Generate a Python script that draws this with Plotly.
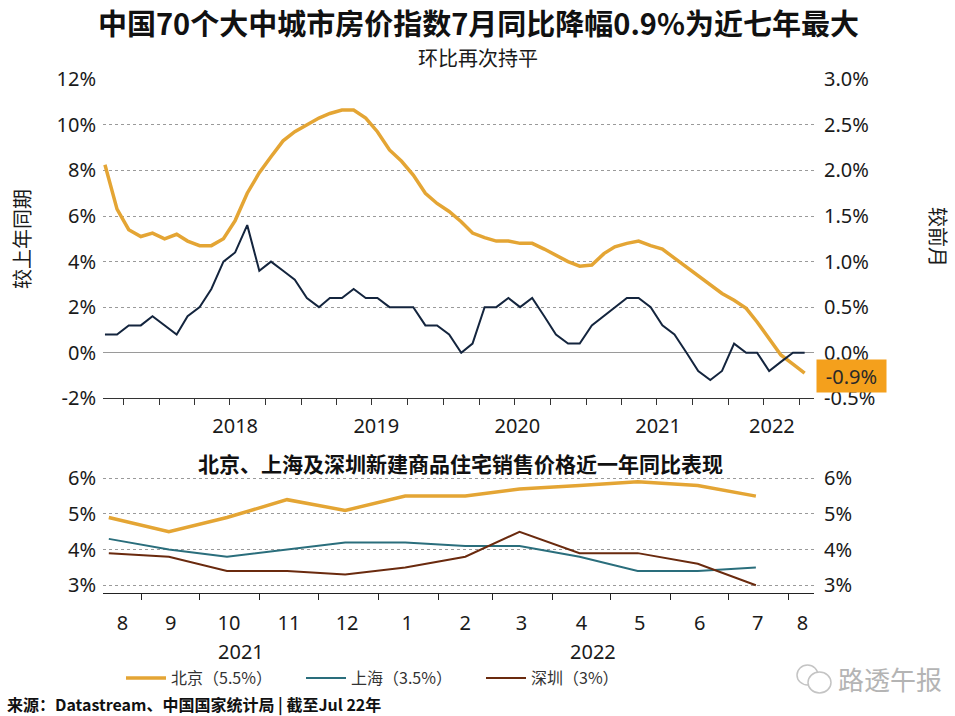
import pandas as pd
import plotly.graph_objects as go

W, H = 955, 716

# ---------------- data ----------------
# 70-city new home price index, monthly from Aug 2017 to Jul 2022
top_first_month = "2017-08-01"
yoy_70city = [8.25, 6.3, 5.4, 5.1, 5.25,
              5.0, 5.2, 4.9, 4.7, 4.7, 5.0, 5.8, 7.0, 7.9, 8.6, 9.3, 9.7,
              10.0, 10.3, 10.5, 10.65, 10.65, 10.3, 9.7, 8.9, 8.4, 7.8, 7.0, 6.55,
              6.2, 5.75, 5.25, 5.05, 4.9, 4.9, 4.8, 4.8, 4.55, 4.3, 4.0, 3.8,
              3.85, 4.35, 4.65, 4.8, 4.9, 4.7, 4.55, 4.15, 3.75, 3.35, 2.95, 2.6,
              2.3, 1.95, 1.35, 0.6, -0.1, -0.5, -0.9]
mom_70city = [0.2, 0.2, 0.3, 0.3, 0.4,
              0.3, 0.2, 0.4, 0.5, 0.7, 1.0, 1.1, 1.4, 0.9, 1.0, 0.9, 0.8,
              0.6, 0.5, 0.6, 0.6, 0.7, 0.6, 0.6, 0.5, 0.5, 0.5, 0.3, 0.3,
              0.2, 0.0, 0.1, 0.5, 0.5, 0.6, 0.5, 0.6, 0.4, 0.2, 0.1, 0.1,
              0.3, 0.4, 0.5, 0.6, 0.6, 0.5, 0.3, 0.2, 0.0, -0.2, -0.3, -0.2,
              0.1, 0.0, 0.0, -0.2, -0.1, 0.0, 0.0]
year_labels = ["2018", "2019", "2020", "2021", "2022"]
year_label_pos = ["2018-07-15", "2019-07-12", "2020-07-08", "2021-07-04", "2022-04-22"]
left_tick_vals = [-2, 0, 2, 4, 6, 8, 10, 12]
left_tick_text = ["-2%", "0%", "2%", "4%", "6%", "8%", "10%", "12%"]
right_tick_vals = [-0.5, 0.0, 0.5, 1.0, 1.5, 2.0, 2.5, 3.0]
right_tick_text = ["-0.5%", "0.0%", "0.5%", "1.0%", "1.5%", "2.0%", "2.5%", "3.0%"]

# Beijing / Shanghai / Shenzhen YoY, monthly Aug 2021 - Jul 2022
city_first_month = "2021-08-01"
beijing = [4.9, 4.5, 4.9, 5.4, 5.1, 5.5, 5.5, 5.7, 5.8, 5.9, 5.8, 5.5]
shanghai = [4.3, 4.0, 3.8, 4.0, 4.2, 4.2, 4.1, 4.1, 3.8, 3.4, 3.4, 3.5]
shenzhen = [3.9, 3.8, 3.4, 3.4, 3.3, 3.5, 3.8, 4.5, 3.9, 3.9, 3.6, 3.0]
month_labels = ["8", "9", "10", "11", "12", "1", "2", "3", "4", "5", "6", "7", "8"]
month_label_pos = ["2021-08-22", "2021-09-16", "2021-10-16", "2021-11-16", "2021-12-16",
                   "2022-01-16", "2022-02-15", "2022-03-16", "2022-04-16", "2022-05-16",
                   "2022-06-16", "2022-07-16", "2022-08-08"]
city_years = ["2021", "2022"]
city_year_pos = ["2021-10-22", "2022-04-22"]
city_tick_vals = [3, 4, 5, 6]
city_tick_text = ["3%", "4%", "5%", "6%"]

# ---------------- styles ----------------
GOLD = "#E4A534"
NAVY = "#14253E"
TEAL = "#2A6E7C"
BROWN = "#6A2A0E"
BOX = "#F4A01C"
TXT = "#1a1a1a"
FONT = "Noto Sans, Noto Sans CJK SC, sans-serif"
CJK = "Noto Sans CJK SC, sans-serif"


def px(x):
    return x / W


def py(y):
    return 1 - y / H


top_dates = pd.date_range(top_first_month, periods=len(yoy_70city), freq="MS") + pd.Timedelta(days=14)
city_dates = pd.date_range(city_first_month, periods=len(beijing), freq="MS") + pd.Timedelta(days=14)

fig = go.Figure()
fig.add_trace(go.Scatter(x=top_dates, y=yoy_70city, mode="lines", line=dict(color=GOLD, width=3.5),
                         xaxis="x", yaxis="y", showlegend=False))
fig.add_trace(go.Scatter(x=top_dates, y=mom_70city, mode="lines", line=dict(color=NAVY, width=2),
                         xaxis="x", yaxis="y2", showlegend=False))

fig.add_trace(go.Scatter(x=city_dates, y=beijing, mode="lines", line=dict(color=GOLD, width=3.5),
                         xaxis="x2", yaxis="y3", name="北京（5.5%）"))
fig.add_trace(go.Scatter(x=city_dates, y=shanghai, mode="lines", line=dict(color=TEAL, width=2),
                         xaxis="x2", yaxis="y3", name="上海（3.5%）"))
fig.add_trace(go.Scatter(x=city_dates, y=shenzhen, mode="lines", line=dict(color=BROWN, width=2),
                         xaxis="x2", yaxis="y3", name="深圳（3%）"))
# invisible trace so the right-hand axis of the lower panel is drawn
fig.add_trace(go.Scatter(x=city_dates[:1], y=beijing[:1], xaxis="x2", yaxis="y4",
                         mode="markers", marker=dict(opacity=0), showlegend=False, hoverinfo="skip"))

xdom = [px(103), px(814)]
top_dom = [py(398.3), py(79.3)]
bot_dom = [py(592.7), py(476.5)]

tickfont = dict(family=FONT, size=20, color=TXT)
grid = dict(showgrid=True, gridcolor="#9a9a9a", griddash="dot", gridwidth=1)

fig.update_layout(
    width=W, height=H,
    margin=dict(l=0, r=0, t=0, b=0, autoexpand=False),
    paper_bgcolor="white", plot_bgcolor="white",
    font=dict(family=FONT, color=TXT),
    xaxis=dict(domain=xdom, anchor="y", type="date", range=["2017-08-10", "2022-08-08"],
               tickvals=year_label_pos, ticktext=year_labels, ticks="", tickfont=tickfont,
               ticklabelstandoff=10, showgrid=False, showline=True, linecolor="#333", linewidth=1,
               automargin=False, zeroline=False,
               minor=dict(ticks="outside", ticklen=6, tickcolor="#333", tickwidth=1,
                          tick0="2017-10-01", dtick="M3", showgrid=False)),
    yaxis=dict(domain=top_dom, anchor="x", range=[-2, 12], tickvals=left_tick_vals,
               ticktext=left_tick_text, tickfont=tickfont, zeroline=True, zerolinecolor="#9a9a9a",
               zerolinewidth=1, showline=False, ticks="", ticklabelstandoff=6, automargin=False, **grid),
    yaxis2=dict(overlaying="y", side="right", anchor="x", range=[-0.5, 3.0],
                tickvals=right_tick_vals, ticktext=right_tick_text, tickfont=tickfont,
                showgrid=False, zeroline=False, ticks="", ticklabelstandoff=9, automargin=False),
    xaxis2=dict(domain=xdom, anchor="y3", type="date", range=["2021-08-12", "2022-08-14"],
                tickvals=month_label_pos, ticktext=month_labels, ticks="", tickfont=tickfont,
                ticklabelstandoff=12, showgrid=False, showline=True, linecolor="#222", linewidth=1,
                automargin=False, zeroline=False,
                minor=dict(ticks="outside", ticklen=6, tickcolor="#222", tickwidth=1,
                           tick0="2021-09-01", dtick="M1", showgrid=False)),
    yaxis3=dict(domain=bot_dom, anchor="x2", range=[2.79, 6.05], tickvals=city_tick_vals,
                ticktext=city_tick_text, tickfont=tickfont, zeroline=False, showline=False,
                ticks="", ticklabelstandoff=6, automargin=False, **grid),
    yaxis4=dict(overlaying="y3", side="right", anchor="x2", range=[2.79, 6.05],
                tickvals=city_tick_vals, ticktext=city_tick_text, tickfont=tickfont,
                showgrid=False, zeroline=False, ticks="", ticklabelstandoff=9, automargin=False),
    legend=dict(orientation="h", x=px(121), y=py(678), xanchor="left", yanchor="middle",
                font=dict(family=CJK, size=16, color="#333"), itemwidth=40,
                bgcolor="rgba(0,0,0,0)", entrywidth=125, entrywidthmode="pixels"),
    showlegend=True,
)

ann = []


def note(text, x, y, size, xanchor="center", angle=0, color=TXT, family=CJK, **kw):
    ann.append(dict(text=text, x=x, y=y, xref=kw.pop("xref", "paper"), yref=kw.pop("yref", "paper"),
                    xanchor=xanchor, yanchor="middle", showarrow=False, textangle=angle,
                    font=dict(family=family, size=size, color=color), **kw))


note("<b>中国70个大中城市房价指数7月同比降幅0.9%为近七年最大</b>", px(478), py(22), 29, color="#111")
note("环比再次持平", px(478), py(57), 20)
note("较上年同期", px(21), py(239), 20, angle=-90)
note("较前月", px(939), py(237), 20, angle=90)
note("-0.9%", px(816), yoy_70city[-1], 20, xanchor="left", color="#2a2a2a", family=FONT,
     yref="y", yshift=-3, bgcolor=BOX, borderpad=3.5, width=62, height=25, align="center")
note("<b>北京、上海及深圳新建商品住宅销售价格近一年同比表现</b>", px(460), py(463), 21, color="#111")
for t, pos in zip(city_years, city_year_pos):
    note(t, pos, py(651), 20, family=FONT, xref="x2")
note("<b>来源：Datastream、中国国家统计局 | 截至Jul 22年</b>", px(5), py(704), 16, xanchor="left", color="#111")
note("路透午报", px(836), py(678), 26, xanchor="left", color="#b4b4b4")
fig.update_layout(annotations=ann)

fig.add_shape(type="circle", xref="paper", yref="paper", x0=px(797), x1=px(818), y0=py(685), y1=py(665),
              line=dict(color="#c4c4c4", width=1.5))
fig.add_shape(type="circle", xref="paper", yref="paper", x0=px(808), x1=px(831), y0=py(693), y1=py(672),
              line=dict(color="#c4c4c4", width=1.5), fillcolor="white")

fig.write_html("out.html", config={"displayModeBar": False},
               post_script="document.body.style.margin='0';document.body.style.overflow='hidden';")
